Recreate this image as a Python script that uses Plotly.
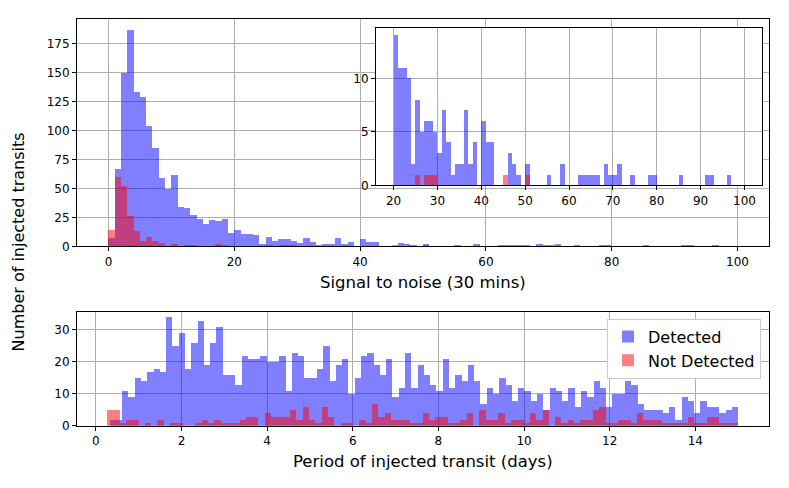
import numpy as np
import plotly.graph_objects as go

# Signal to noise histogram (bin width 1, 0..100)
snr_detected = [
    7, 67, 150, 187, 133, 129, 104, 85, 59, 50,
    62, 34, 33, 27, 24, 19, 23, 22, 24, 12,
    14, 11, 11, 10, 2, 8, 5, 6, 6, 5,
    3, 7, 4, 1, 2, 2, 7, 2, 4, 0,
    6, 4, 4, 0, 0, 0, 3, 2, 1, 0,
    2, 0, 0, 0, 0, 1, 0, 0, 2, 0,
    0, 0, 1, 1, 1, 1, 1, 0, 2, 1,
    1, 2, 0, 0, 1, 0, 0, 0, 1, 1,
    0, 0, 0, 0, 0, 1, 0, 0, 0, 0,
    0, 1, 1, 0, 0, 0, 1, 0, 0, 0,
]
snr_not_detected = [
    14, 60, 52, 26, 13, 5, 8, 5, 3, 0,
    2, 0, 1, 1, 0, 0, 0, 2, 1, 0,
    0, 0, 0, 0, 0, 1, 0, 1, 1, 1,
    0, 0, 0, 0, 0, 0, 0, 0, 0, 0,
    0, 0, 0, 0, 0, 1, 0, 0, 0, 0,
    1, 0, 0, 0, 0, 0, 0, 0, 0, 0,
    0, 0, 0, 0, 0, 0, 0, 0, 0, 0,
    0, 0, 0, 0, 0, 0, 0, 0, 0, 0,
    0, 0, 0, 0, 0, 0, 0, 0, 0, 0,
    0, 0, 0, 0, 0, 0, 0, 0, 0, 0,
]

# Period histogram (100 bins each)
period_detected = [
    2, 2, 11, 9, 15, 14, 17, 18, 17, 34,
    25, 29, 18, 26, 33, 19, 26, 31, 16, 16,
    13, 22, 21, 21, 22, 20, 20, 22, 11, 23,
    22, 15, 15, 18, 25, 14, 19, 21, 10, 15,
    22, 23, 19, 16, 21, 9, 12, 23, 12, 19,
    16, 13, 11, 21, 12, 16, 14, 19, 14, 7,
    12, 10, 15, 13, 8, 12, 11, 8, 10, 5,
    12, 11, 8, 12, 6, 11, 9, 14, 12, 6,
    10, 10, 14, 13, 7, 5, 5, 5, 4, 6,
    2, 9, 8, 4, 8, 6, 6, 4, 5, 6,
]
period_not_detected = [
    5, 5, 1, 2, 2, 0, 1, 0, 2, 0,
    1, 1, 0, 0, 1, 2, 1, 2, 1, 1,
    1, 2, 3, 3, 0, 4, 3, 3, 3, 5,
    2, 6, 2, 1, 6, 3, 0, 1, 1, 0,
    2, 1, 7, 3, 4, 2, 2, 2, 1, 1,
    4, 2, 3, 3, 1, 1, 2, 4, 0, 5,
    2, 2, 4, 1, 2, 2, 1, 4, 2, 5,
    0, 3, 1, 2, 1, 2, 2, 5, 6, 1,
    1, 2, 2, 1, 4, 2, 2, 2, 1, 1,
    1, 1, 3, 1, 1, 3, 3, 1, 1, 1,
]

snr_edges = np.linspace(0, 100, 101)
det_edges = np.linspace(0.32, 15.0, 101)
nd_edges = np.linspace(0.26, 15.0, 101)

BLUE = "rgba(0,0,255,0.5)"
RED = "rgba(255,0,0,0.5)"
FONT = "DejaVu Sans"

W, H = 789, 488
K = 496 / 488  # the page comes out a little taller than H, so stretch


def px_x(x):
    return x / W


def px_y(y):
    return 1 - y * K / H


def bars(edges, counts, color, name, xa, ya, legend=False):
    edges = np.asarray(edges)
    return go.Bar(
        x=edges[:-1], y=counts, width=np.diff(edges), offset=0,
        marker=dict(color=color, line=dict(width=0)),
        name=name, showlegend=legend, xaxis=xa, yaxis=ya,
    )


fig = go.Figure()
# top panel
fig.add_trace(bars(snr_edges, snr_detected, BLUE, "Detected", "x", "y"))
fig.add_trace(bars(snr_edges, snr_not_detected, RED, "Not Detected", "x", "y"))
# bottom panel
fig.add_trace(bars(det_edges, period_detected, BLUE, "Detected", "x2", "y2", True))
fig.add_trace(bars(nd_edges, period_not_detected, RED, "Not Detected", "x2", "y2", True))
# inset (SNR > 20)
fig.add_trace(bars(snr_edges[20:], snr_detected[20:], BLUE, "Detected", "x3", "y3"))
fig.add_trace(bars(snr_edges[20:], snr_not_detected[20:], RED, "Not Detected", "x3", "y3"))

ax = dict(showline=True, linecolor="black", linewidth=1, mirror=True,
          ticks="outside", ticklen=4, tickcolor="black",
          showgrid=True, gridcolor="#b0b0b0", gridwidth=1, zeroline=False,
          tickfont=dict(family=FONT, size=12, color="black"))

fig.update_layout(
    width=W, height=H,
    margin=dict(l=0, r=0, t=0, b=0),
    paper_bgcolor="white", plot_bgcolor="white",
    barmode="overlay", bargap=0,
    font=dict(family=FONT, color="black"),
    xaxis=dict(ax, domain=[px_x(77), px_x(769)], range=[-5, 105],
               tickvals=[0, 20, 40, 60, 80, 100], anchor="y"),
    yaxis=dict(ax, domain=[px_y(246), px_y(19)], range=[0, 196.35],
               tickvals=[0, 25, 50, 75, 100, 125, 150, 175], anchor="x"),
    xaxis2=dict(ax, domain=[px_x(77), px_x(769)], range=[-0.44, 15.72],
                tickvals=list(range(0, 15, 2)), anchor="y2"),
    yaxis2=dict(ax, domain=[px_y(425), px_y(311)], range=[0, 35.7],
                tickvals=[0, 10, 20, 30], anchor="x2"),
    xaxis3=dict(ax, domain=[px_x(376), px_x(762)], range=[16, 104],
                tickvals=list(range(20, 101, 10)), anchor="y3"),
    yaxis3=dict(ax, domain=[px_y(185), px_y(28)], range=[0, 14.7],
                tickvals=[0, 5, 10], anchor="x3"),
    legend=dict(x=px_x(761), y=px_y(318), xanchor="right", yanchor="top",
                bgcolor="white", bordercolor="#cccccc", borderwidth=1,
                font=dict(family=FONT, size=16, color="black")),
    annotations=[
        dict(text="Signal to noise (30 mins)", x=0.536, y=px_y(282),
             xref="paper", yref="paper", showarrow=False,
             xanchor="center", yanchor="middle",
             font=dict(family=FONT, size=16.5)),
        dict(text="Period of injected transit (days)", x=0.536, y=px_y(461),
             xref="paper", yref="paper", showarrow=False,
             xanchor="center", yanchor="middle",
             font=dict(family=FONT, size=16.5)),
        dict(text="Number of injected transits", x=px_x(18), y=px_y(242),
             xref="paper", yref="paper", showarrow=False, textangle=-90,
             xanchor="center", yanchor="middle",
             font=dict(family=FONT, size=16)),
    ],
)

fig.write_html(
    "out.html",
    config={"displayModeBar": False},
    post_script="document.documentElement.style.margin='0';"
                "document.body.style.margin='0';"
                "document.body.style.overflow='hidden';",
)
